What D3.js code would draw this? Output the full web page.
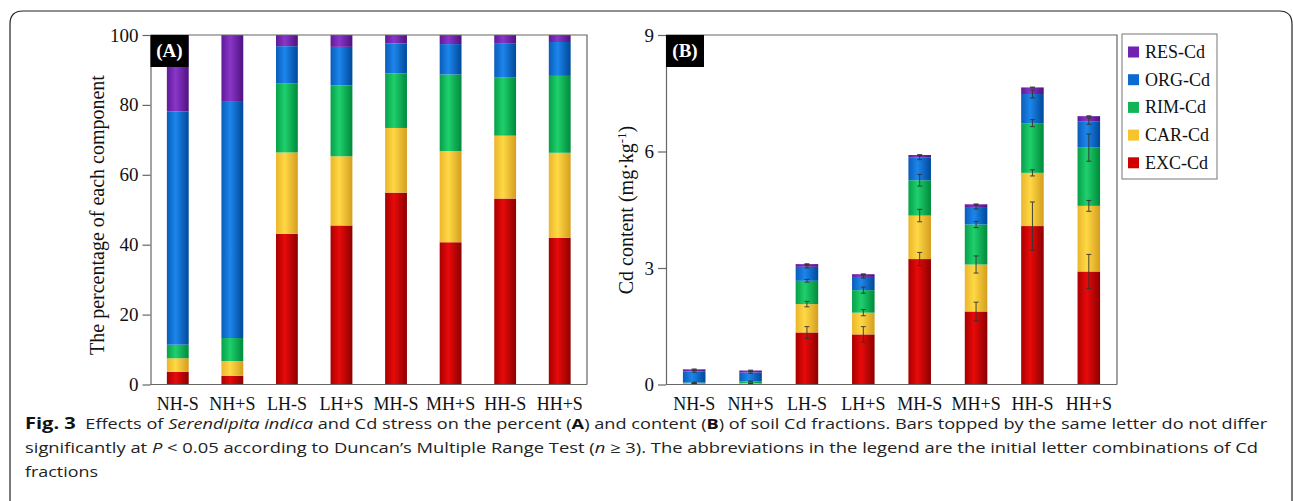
<!DOCTYPE html>
<html><head><meta charset="utf-8">
<script src="https://cdn.jsdelivr.net/npm/d3@7"></script>
<style>
html,body{margin:0;padding:0;background:#fff;}
svg{display:block;}
</style></head>
<body>
<svg id="fig" width="1293" height="501"></svg>
<script>
const categories = ["NH-S","NH+S","LH-S","LH+S","MH-S","MH+S","HH-S","HH+S"];
const fractions = ["EXC-Cd","CAR-Cd","RIM-Cd","ORG-Cd","RES-Cd"];
// Panel A: percentage of each component
const pctEXC = [3.6, 2.5, 43.1, 45.5, 54.9, 40.7, 53.2, 42.0];
const pctCAR = [3.9, 4.2, 23.3, 19.8, 18.5, 26.1, 18.0, 24.3];
const pctRIM = [3.9, 6.6, 19.7, 20.3, 15.6, 21.9, 16.6, 22.0];
const pctORG = [66.7, 67.8, 10.7, 11.0, 8.6, 8.7, 9.7, 9.7];
const pctRES = [21.9, 18.9, 3.2, 3.4, 2.4, 2.6, 2.5, 2.0];
// Panel B: Cd content (mg/kg)
const cEXC = [0.015, 0.01, 1.34, 1.29, 3.23, 1.88, 4.08, 2.91];
const cCAR = [0.015, 0.02, 0.73, 0.56, 1.12, 1.21, 1.37, 1.69];
const cRIM = [0.02, 0.047, 0.60, 0.58, 0.91, 1.03, 1.28, 1.50];
const cORG = [0.285, 0.233, 0.36, 0.34, 0.58, 0.45, 0.75, 0.68];
const cRES = [0.055, 0.05, 0.07, 0.07, 0.07, 0.07, 0.17, 0.13];
// Panel B error (SD)
const eEXC = [0.005, 0.005, 0.15, 0.20, 0.17, 0.24, 0.62, 0.44];
const eCAR = [0.005, 0.005, 0.07, 0.08, 0.16, 0.22, 0.08, 0.14];
const eRIM = [0.01, 0.01, 0.035, 0.08, 0.15, 0.08, 0.09, 0.35];
const eORG = [0.02, 0.02, 0.03, 0.03, 0.05, 0.05, 0.10, 0.08];
const eRES = [0.01, 0.01, 0.01, 0.01, 0.01, 0.01, 0.01, 0.01];
const ticksA = [0, 20, 40, 60, 80, 100];
const ticksB = [0, 3, 6, 9];

const colors = {
  "EXC-Cd": ["#a80000", "#e80a0a", "#8c0000"],
  "CAR-Cd": ["#eab52a", "#ffd845", "#d49e1e"],
  "RIM-Cd": ["#06a04a", "#1fd06c", "#008a3c"],
  "ORG-Cd": ["#0a5cb8", "#1c86ec", "#00489a"],
  "RES-Cd": ["#5e1a98", "#8a36c8", "#4e1280"]
};
const flat = {"EXC-Cd":"#d00000","CAR-Cd":"#f6c42c","RIM-Cd":"#12b455","ORG-Cd":"#0a6bd0","RES-Cd":"#7022b0"};

const svg = d3.select("#fig");
const serif = "'Liberation Serif','Times New Roman',serif";

// gradients
const defs = svg.append("defs");
fractions.forEach((f, i) => {
  const g = defs.append("linearGradient").attr("id", "g" + i)
    .attr("x1", "0%").attr("x2", "100%").attr("y1", "0%").attr("y2", "0%");
  g.append("stop").attr("offset", "0%").attr("stop-color", colors[f][0]);
  g.append("stop").attr("offset", "40%").attr("stop-color", colors[f][1]);
  g.append("stop").attr("offset", "100%").attr("stop-color", colors[f][2]);
});

// outer frame
svg.append("path")
  .attr("d", "M10,501 V24 Q10,11 23,11 H1279 Q1292,11 1292,24 V501")
  .attr("fill", "none").attr("stroke", "#222").attr("stroke-width", 1.2);

function makeSeries(arrs) {
  return categories.map((c, i) => {
    const o = {cat: c};
    fractions.forEach((f, k) => o[f] = arrs[k][i]);
    return o;
  });
}

function panel(opts) {
  const {x0, x1, axisX, yTop, yBot, domainMax, ticks, data, errs, label, ylabelX, ylabelY} = opts;
  const x = d3.scaleBand().domain(categories).range([x0, x1]).paddingInner(0.6).paddingOuter(0.3);
  const y = d3.scaleLinear().domain([0, domainMax]).range([yBot, yTop]);
  const g = svg.append("g");
  const stacked = d3.stack().keys(fractions)(data);
  stacked.forEach((layer, k) => {
    g.append("g").selectAll("rect").data(layer).join("rect")
      .attr("x", d => x(d.data.cat))
      .attr("width", x.bandwidth())
      .attr("y", d => y(d[1]))
      .attr("height", d => Math.max(0, y(d[0]) - y(d[1])))
      .attr("fill", "url(#g" + k + ")");
  });
  if (errs) {
    stacked.forEach((layer, k) => {
      const eg = g.append("g");
      layer.forEach((d, i) => {
        const e = errs[k][i];
        const cx = x(d.data.cat) + x.bandwidth() / 2;
        const t = d[1];
        eg.append("line").attr("x1", cx).attr("x2", cx)
          .attr("y1", y(t + e)).attr("y2", y(Math.max(0, t - e)))
          .attr("stroke", "#333").attr("stroke-width", 0.9);
        [t + e, Math.max(0, t - e)].forEach(v => {
          eg.append("line").attr("x1", cx - 2.5).attr("x2", cx + 2.5)
            .attr("y1", y(v)).attr("y2", y(v))
            .attr("stroke", "#333").attr("stroke-width", 0.9);
        });
      });
    });
  }
  // frame: top and right
  g.append("path").attr("d", `M${axisX},${yTop} H${x1} V${yBot}`)
    .attr("fill", "none").attr("stroke", "#666").attr("stroke-width", 1.2);
  // x axis line
  g.append("line").attr("x1", axisX).attr("x2", x1).attr("y1", yBot).attr("y2", yBot)
    .attr("stroke", "#666").attr("stroke-width", 1.2);
  // y axis
  const ya = d3.axisLeft(y).tickValues(ticks).tickSize(8).tickPadding(4).tickSizeOuter(0);
  const yg = g.append("g").attr("transform", `translate(${axisX},0)`).call(ya);
  yg.select(".domain").attr("stroke", "#666").attr("stroke-width", 1.2);
  yg.selectAll(".tick line").attr("stroke", "#666").attr("stroke-width", 1.2);
  yg.selectAll(".tick text").attr("font-family", serif).attr("font-size", 19).attr("fill", "#111");
  // x labels
  const xa = d3.axisBottom(x).tickSize(0).tickPadding(13);
  const xg = g.append("g").attr("transform", `translate(0,${yBot})`).call(xa);
  xg.select(".domain").remove();
  xg.selectAll(".tick text").attr("font-family", serif).attr("font-size", 18).attr("fill", "#111");
  // panel label
  g.append("rect").attr("x", axisX).attr("y", yTop).attr("width", 38).attr("height", 32).attr("fill", "#000");
  g.append("text").attr("x", axisX + 19).attr("y", yTop + 22).attr("text-anchor", "middle")
    .attr("font-family", serif).attr("font-weight", "bold").attr("font-size", 19).attr("fill", "#fff").text(label);
  // y label
  const yl = g.append("text").attr("transform", `translate(${ylabelX},${ylabelY}) rotate(-90)`)
    .attr("text-anchor", "middle").attr("font-family", serif).attr("font-size", 20).attr("fill", "#111");
  return {g, yl};
}

const A = panel({
  x0: 150.5, x1: 587, axisX: 150.5, yTop: 35, yBot: 384.5, domainMax: 100, ticks: ticksA,
  data: makeSeries([pctEXC, pctCAR, pctRIM, pctORG, pctRES]), errs: null,
  label: "(A)", ylabelX: 104, ylabelY: 215
});
A.yl.text("The percentage of each component");

const B = panel({
  x0: 666, x1: 1117, axisX: 666, yTop: 35, yBot: 384.5, domainMax: 9, ticks: ticksB,
  data: makeSeries([cEXC, cCAR, cRIM, cORG, cRES]), errs: [eEXC, eCAR, eRIM, eORG, eRES],
  label: "(B)", ylabelX: 633, ylabelY: 210
});
B.yl.append("tspan").text("Cd content (mg·kg");
B.yl.append("tspan").attr("dy", -7).attr("font-size", 13).text("-1");
B.yl.append("tspan").attr("dy", 7).text(")");

// legend
const lg = svg.append("g");
lg.append("rect").attr("x", 1122).attr("y", 34).attr("width", 95).attr("height", 145)
  .attr("fill", "#fff").attr("stroke", "#777").attr("stroke-width", 1);
const legendOrder = fractions.slice().reverse();
legendOrder.forEach((f, i) => {
  const cy = 52 + i * 27.7;
  lg.append("rect").attr("x", 1128).attr("y", cy - 5.5).attr("width", 11).attr("height", 11).attr("fill", flat[f]);
  lg.append("text").attr("x", 1145).attr("y", cy + 6).attr("font-family", serif).attr("font-size", 18)
    .attr("fill", "#111").text(f);
});

// caption
const sans = "'Open Sans','Noto Sans',sans-serif";
const capLines = [
  {y: 429, w: 1243, parts: [
    {t: "Fig. 3", b: true, fs: 16},
    {t: "  Effects of "}, {t: "Serendipita indica", i: true},
    {t: " and Cd stress on the percent ("}, {t: "A", b: true}, {t: ") and content ("}, {t: "B", b: true},
    {t: ") of soil Cd fractions. Bars topped by the same letter do not differ"}]},
  {y: 453, w: 1234, parts: [
    {t: "significantly at "}, {t: "P", i: true}, {t: " < 0.05 according to Duncan’s Multiple Range Test ("},
    {t: "n", i: true}, {t: " ≥ 3). The abbreviations in the legend are the initial letter combinations of Cd"}]},
  {y: 477, w: 73, parts: [{t: "fractions"}]}
];
capLines.forEach(line => {
  const t = svg.append("text").attr("x", 0).attr("y", 0).attr("font-family", sans)
    .attr("font-size", 14.5).attr("fill", "#222");
  line.parts.forEach(p => {
    const s = t.append("tspan").text(p.t);
    if (p.b) s.attr("font-weight", "bold").attr("fill", "#111");
    if (p.i) s.attr("font-style", "italic");
    if (p.fs) s.attr("font-size", p.fs);
  });
  t.style("white-space", "pre");
  const w = t.node().getComputedTextLength();
  const sx = line.w / w;
  t.attr("transform", `translate(25,${line.y}) scale(${sx},1)`);
});
</script>
</body></html>
